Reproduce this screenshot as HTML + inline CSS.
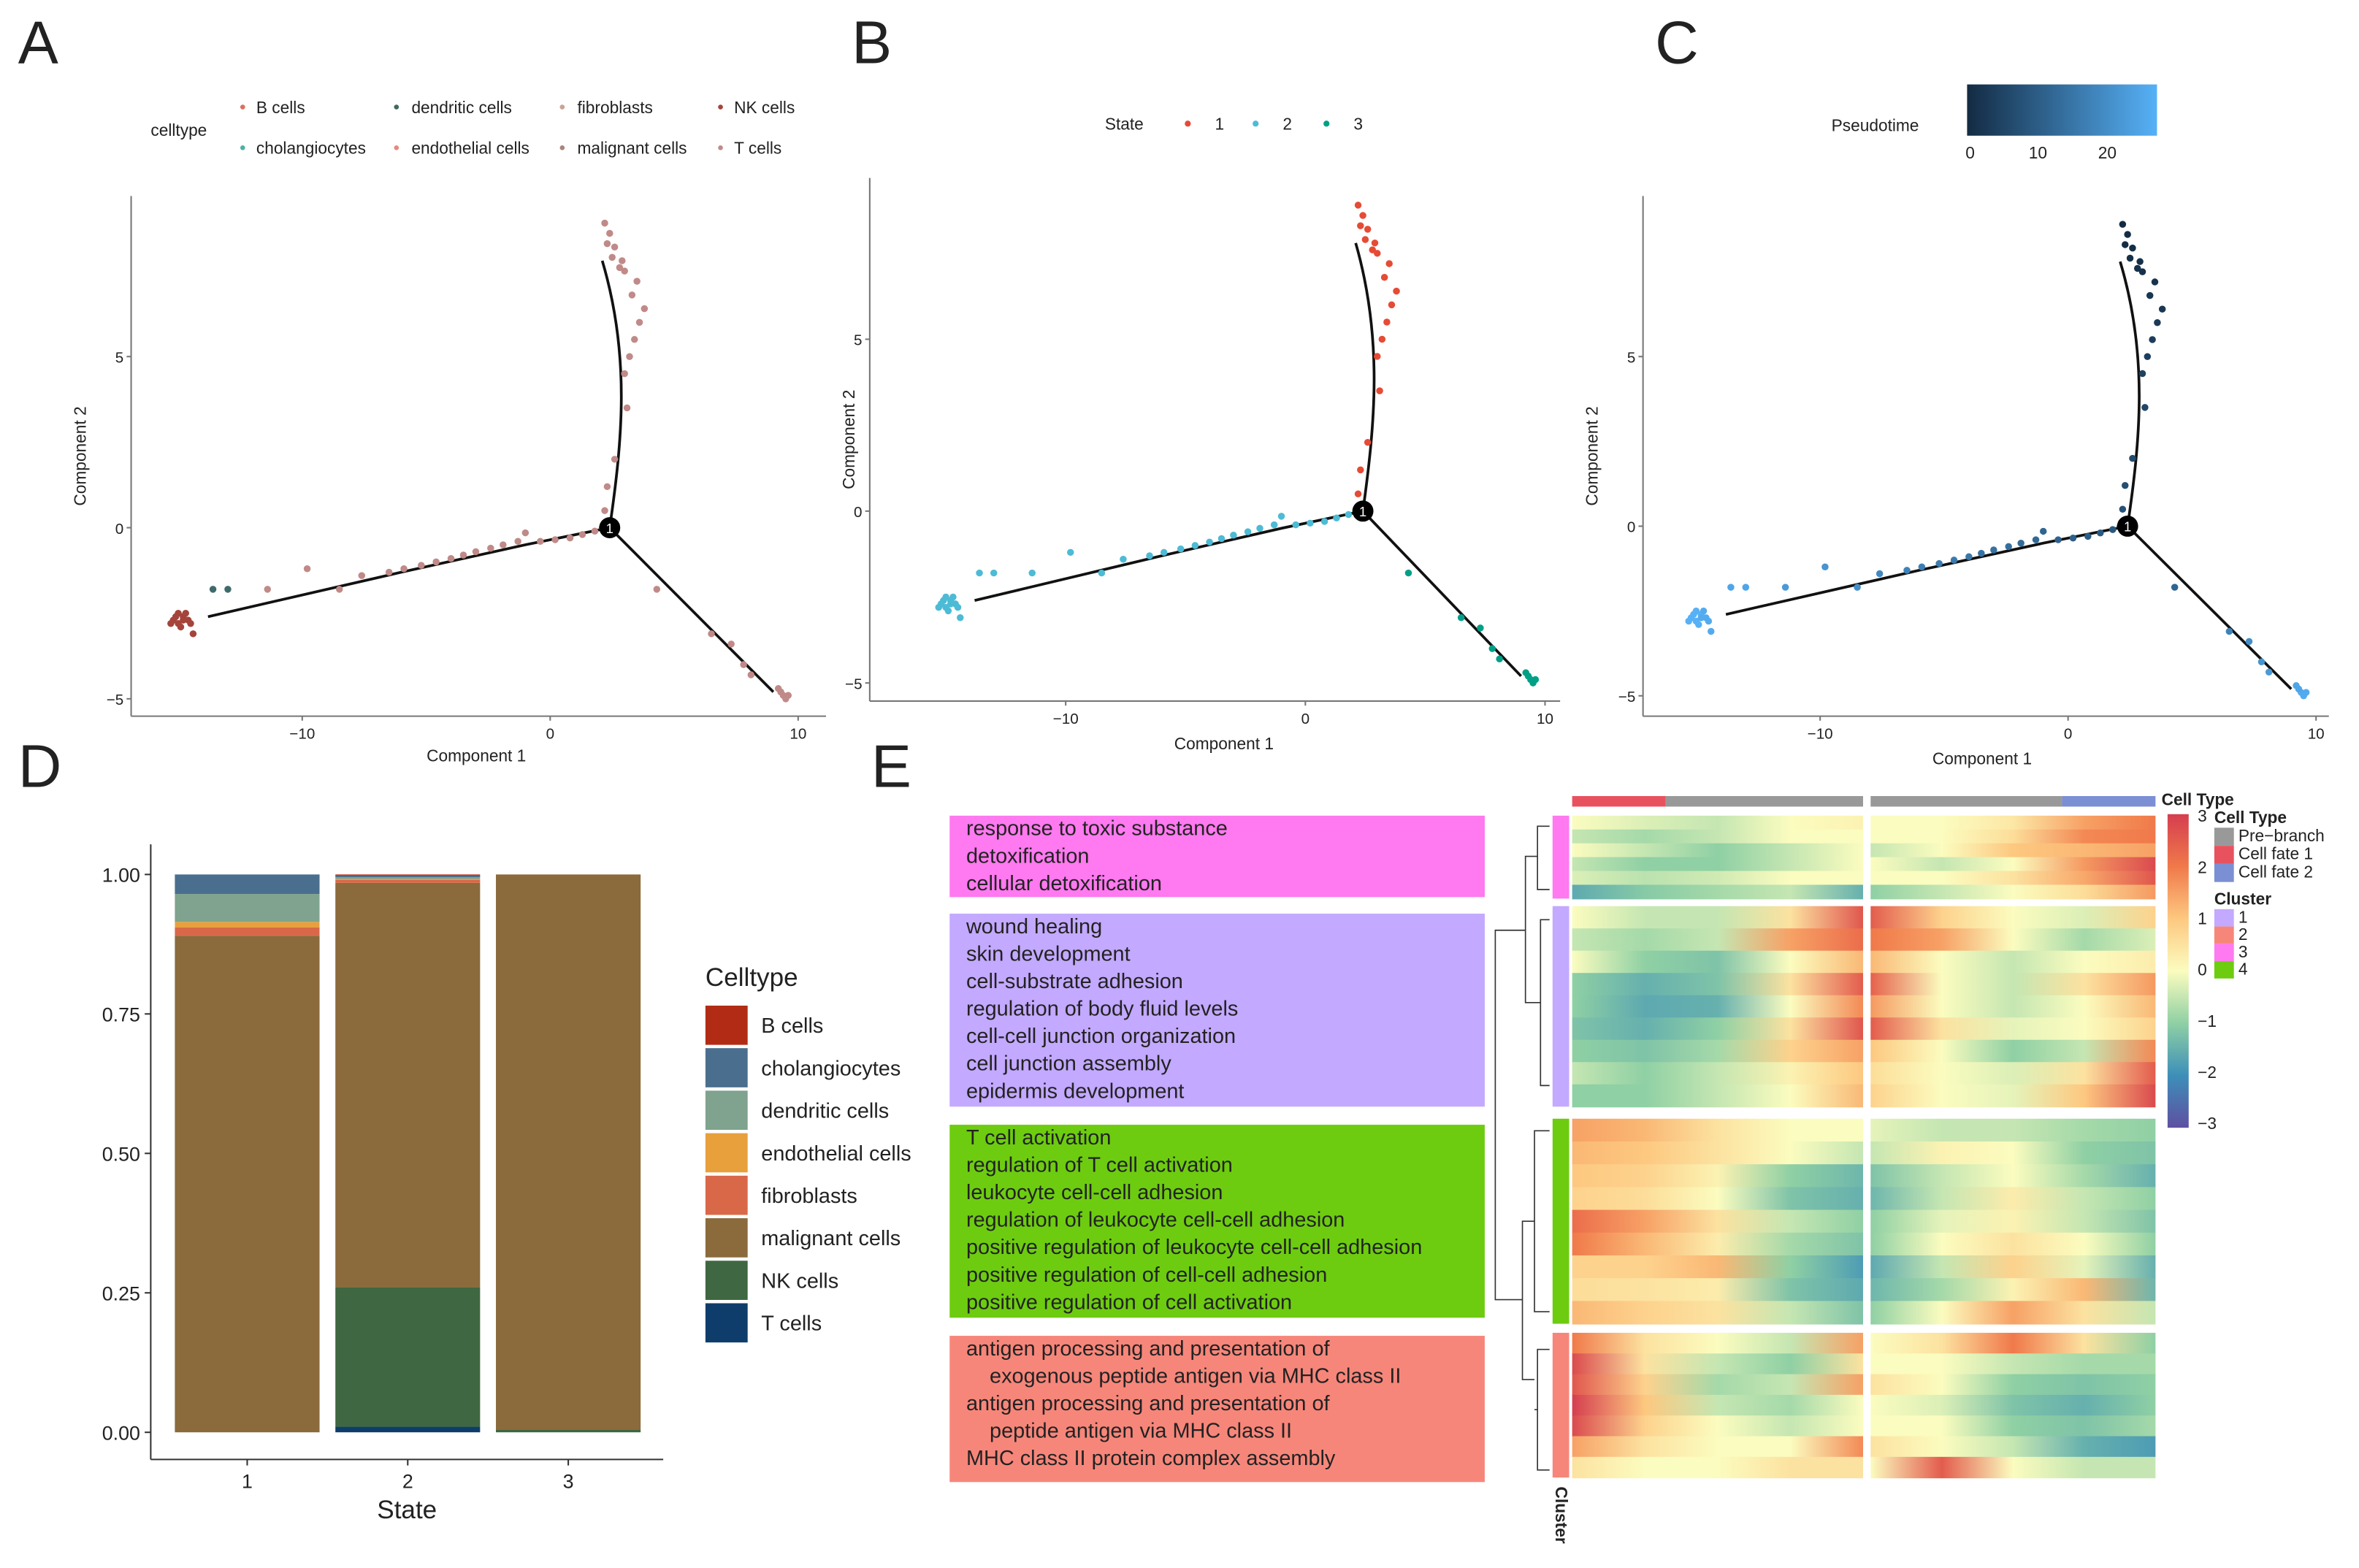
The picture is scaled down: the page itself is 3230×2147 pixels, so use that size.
<!DOCTYPE html>
<html><head><meta charset="utf-8"><style>
html,body{margin:0;padding:0;background:#fff}
svg{display:block}
text{font-family:"Liberation Sans",sans-serif;fill:#222}
</style></head><body>
<svg id="fig" width="3230" height="2147" viewBox="0 0 1565 1040" preserveAspectRatio="none" xmlns="http://www.w3.org/2000/svg">
<defs id="defs"></defs>
<!-- panel letters -->
<text x="12" y="42" font-size="40">A</text>
<text x="565" y="42" font-size="40">B</text>
<text x="1098" y="42" font-size="40">C</text>
<text x="12" y="522" font-size="40">D</text>
<text x="578" y="522" font-size="40">E</text>

<!-- Panel A legend -->
<g font-size="11">
<text x="100" y="90" font-size="11">celltype</text>
<circle cx="161" cy="71" r="1.6" fill="#d9705f"/><text x="170" y="75">B cells</text>
<circle cx="263" cy="71" r="1.6" fill="#3f6a5a"/><text x="273" y="75">dendritic cells</text>
<circle cx="373" cy="71" r="1.6" fill="#c9a394"/><text x="383" y="75">fibroblasts</text>
<circle cx="478" cy="71" r="1.6" fill="#a5443a"/><text x="487" y="75">NK cells</text>
<circle cx="161" cy="98" r="1.6" fill="#4fb0a5"/><text x="170" y="102">cholangiocytes</text>
<circle cx="263" cy="98" r="1.6" fill="#e28c7c"/><text x="273" y="102">endothelial cells</text>
<circle cx="373" cy="98" r="1.6" fill="#a8857a"/><text x="383" y="102">malignant cells</text>
<circle cx="478" cy="98" r="1.6" fill="#c08a88"/><text x="487" y="102">T cells</text>
</g>
<!-- Panel B legend -->
<g font-size="11">
<text x="733" y="86">State</text>
<circle cx="788" cy="82" r="2" fill="#e64b35"/><text x="806" y="86">1</text>
<circle cx="833" cy="82" r="2" fill="#4dbbd5"/><text x="851" y="86">2</text>
<circle cx="880" cy="82" r="2" fill="#00a087"/><text x="898" y="86">3</text>
</g>
<!-- Panel C legend -->
<g font-size="11">
<linearGradient id="ptg" x1="0" x2="1"><stop offset="0" stop-color="#132b43"/><stop offset="1" stop-color="#56b1f7"/></linearGradient>
<text x="1215" y="87">Pseudotime</text>
<rect x="1305" y="56" width="126" height="34" fill="url(#ptg)"/>
<text x="1307" y="105" text-anchor="middle">0</text>
<text x="1352" y="105" text-anchor="middle">10</text>
<text x="1398" y="105" text-anchor="middle">20</text>
</g>

<g id="scatters"></g>
<g id="panelD"></g>
<g id="panelE"></g>
</svg>
<script>
// ---------- trajectory data (shared cells) ----------
const cellX = [-15.2,-15.0,-14.8,-14.6,-14.9,-15.3,-14.7,-15.1,-14.5,-14.4,-15.0,-14.8,
 -13.6,-13.0,-11.4,-9.8,-8.5,-7.6,-6.5,-5.9,-5.2,-4.6,-4.0,-3.5,-3.0,-2.4,-1.9,-1.3,-1.0,-0.4,0.2,0.8,1.3,1.8,2.1,
 2.2,2.3,2.6,3.1,3.0,3.2,3.4,3.6,3.8,3.3,3.5,3.0,2.9,2.6,2.4,2.2,2.3,2.5,2.8,
 4.3,6.5,7.3,7.8,8.1,9.2,9.4,9.5,9.3,9.6];
const cellY = [-2.7,-2.8,-2.6,-2.7,-2.9,-2.8,-2.5,-2.6,-2.8,-3.1,-2.5,-2.7,
 -1.8,-1.8,-1.8,-1.2,-1.8,-1.4,-1.3,-1.2,-1.1,-1.0,-0.9,-0.8,-0.7,-0.6,-0.5,-0.4,-0.15,-0.4,-0.35,-0.3,-0.2,-0.1,0.0,
 0.5,1.2,2.0,3.5,4.5,5.0,5.5,6.0,6.4,6.8,7.2,7.5,7.8,8.2,8.6,8.9,8.3,7.9,7.6,
 -1.8,-3.1,-3.4,-4.0,-4.3,-4.7,-4.9,-5.0,-4.8,-4.9];
const cellType = ["NK","NK","NK","NK","NK","NK","NK","NK","NK","NK","NK","NK",
 "dendritic","dendritic","malignant","malignant","malignant","malignant","malignant","malignant","malignant","malignant","malignant","malignant","malignant","malignant","malignant","malignant","malignant","malignant","malignant","malignant","malignant","malignant","malignant",
 "malignant","malignant","malignant","malignant","malignant","malignant","malignant","malignant","malignant","malignant","malignant","malignant","malignant","malignant","malignant","malignant","malignant","malignant","malignant",
 "malignant","malignant","malignant","malignant","malignant","malignant","malignant","malignant","malignant","malignant"];
const cellState = [2,2,2,2,2,2,2,2,2,2,2,2, 2,2,2,2,2,2,2,2,2,2,2,2,2,2,2,2,2,2,2,2,2,2,2,
 1,1,1,1,1,1,1,1,1,1,1,1,1,1,1,1,1,1,1, 3,3,3,3,3,3,3,3,3,3];
const cellPT = [23,23,23,22,23,23,22,23,22,22,23,22, 21,21,19,18,17,16,15,14.5,14,13.5,13,12.5,12,11.5,11,10.5,10,9.5,9,8.5,8,7.5,7,
 6.5,6,5.5,4.5,4,3.5,3,2.5,2,2,1.5,1,0.8,0.5,0.3,0,0.4,0.9,1.2,
 10,15,17,18,19,21,22,22,21,22];
const branchL = [[2.4,0],[-1,-0.5],[-6,-1.3],[-13.8,-2.6]];
const branchU = [[2.4,0],[2.9,2.5],[3.25,5],[2.1,7.8]];
const branchR = [[2.4,0],[9.0,-4.8]];
const xTicks = [-10,0,10];
const yTicks = [-5,0,5];

const typeColor = {NK:"#a5443a",dendritic:"#3f6a6a",malignant:"#c08a88"};
const stateColor = {1:"#e64b35",2:"#4dbbd5",3:"#00a087"};
function ptColor(v){const t=Math.max(0,Math.min(1,v/23));const a=[0x13,0x2b,0x43],b=[0x56,0xb1,0xf7];
 return "rgb("+a.map((c,i)=>Math.round(c+(b[i]-c)*t)).join(",")+")";}

const NS="http://www.w3.org/2000/svg";
function mk(tag,attrs,parent){const e=document.createElementNS(NS,tag);for(const k in attrs)e.setAttribute(k,attrs[k]);parent.appendChild(e);return e;}

const panels = [
 {id:"a", x0:365,kx:16.45,y0:350,ky:22.7, L:87,R:548,T:130,B:475, color:i=>typeColor[cellType[i]], xl:316,xly:505,yl:57},
 {id:"b", x0:866,kx:15.9,y0:339,ky:22.8, L:577,R:1035,T:118,B:465, color:i=>stateColor[cellState[i]], xl:812,xly:497,yl:567},
 {id:"c", x0:1372,kx:16.45,y0:349,ky:22.5, L:1090,R:1545,T:130,B:475, color:i=>ptColor(cellPT[i]), xl:1315,xly:507,yl:1060}
];
const sc=document.getElementById("scatters");
panels.forEach(p=>{
 const g=mk("g",{},sc);
 
 
 const sx=v=>p.x0+p.kx*v, sy=v=>p.y0-p.ky*v;
 mk("line",{x1:p.L,y1:p.T,x2:p.L,y2:p.B,stroke:"#777","stroke-width":1},g);
 mk("line",{x1:p.L,y1:p.B,x2:p.R,y2:p.B,stroke:"#777","stroke-width":1},g);
 xTicks.forEach(t=>{mk("line",{x1:sx(t),y1:p.B,x2:sx(t),y2:p.B+3,stroke:"#777"},g);
  const tx=mk("text",{x:sx(t),y:p.B+15,"font-size":10,"text-anchor":"middle",fill:"#555"},g);tx.textContent=(t<0?"\u2212":"")+Math.abs(t);});
 yTicks.forEach(t=>{mk("line",{x1:p.L-3,y1:sy(t),x2:p.L,y2:sy(t),stroke:"#777"},g);
  const tx=mk("text",{x:p.L-5,y:sy(t)+4,"font-size":10,"text-anchor":"end",fill:"#555"},g);tx.textContent=(t<0?"\u2212":"")+Math.abs(t);});
 const xl=mk("text",{x:p.xl,y:p.xly,"font-size":11,"text-anchor":"middle"},g);xl.textContent="Component 1";
 
 const yl=mk("text",{x:p.yl,y:(p.T+p.B)/2,"font-size":11,"text-anchor":"middle",transform:`rotate(-90 ${p.yl} ${(p.T+p.B)/2})`},g);yl.textContent="Component 2";
 
 // branches
 [branchL,branchR].forEach(br=>{mk("polyline",{points:br.map(q=>sx(q[0])+","+sy(q[1])).join(" "),fill:"none",stroke:"#111","stroke-width":1.8},g);});
 const u=branchU.map(q=>[sx(q[0]),sy(q[1])]);
 mk("path",{d:`M${u[0]} C${u[1]} ${u[2]} ${u[3]}`,fill:"none",stroke:"#111","stroke-width":1.8},g);
 cellX.forEach((v,i)=>{const c=mk("circle",{cx:sx(v),cy:sy(cellY[i]),r:2.3,fill:p.color(i)},g);
  });
 mk("circle",{cx:sx(2.4),cy:sy(0),r:7,fill:"#000"},g);
 const bt=mk("text",{x:sx(2.4),y:sy(0)+3.5,"font-size":9,"text-anchor":"middle",fill:"#fff",style:"fill:#fff"},g);bt.textContent="1";
 
});

// ---------- Panel D ----------
const states = ["1","2","3"];
const ctNames = ["B cells","cholangiocytes","dendritic cells","endothelial cells","fibroblasts","malignant cells","NK cells","T cells"];
const ctColors = ["#b22c15","#4a6f8e","#7fa38e","#e8a03c","#d96848","#8b6a3c","#3f6741","#0f3d6b"];
// proportions per state, order as ctNames
const propState1 = [0.0,0.035,0.05,0.01,0.015,0.89,0.0,0.0];
const propState2 = [0.002,0.003,0.003,0.002,0.005,0.725,0.25,0.01];
const propState3 = [0.0,0.0,0.0,0.0,0.0,0.995,0.005,0.0];
const dTicks = [0,0.25,0.5,0.75,1.0];
(function(){
 const g=document.getElementById("panelD");
 
 
 const sy=v=>950-370*v, bx=i=>116+106.5*i, bw=96;
 mk("line",{x1:100,y1:560,x2:100,y2:968,stroke:"#333"},g);
 mk("line",{x1:100,y1:968,x2:440,y2:968,stroke:"#333"},g);
 dTicks.forEach(t=>{mk("line",{x1:96,y1:sy(t),x2:100,y2:sy(t),stroke:"#333"},g);
  const tx=mk("text",{x:93,y:sy(t)+5,"font-size":13,"text-anchor":"end",fill:"#444"},g);tx.textContent=t.toFixed(2);});
 [propState1,propState2,propState3].forEach((arr,si)=>{
  let cum=0;
  for(let k=arr.length-1;k>=0;k--){const v=arr[k];if(v>0){const r=mk("rect",{x:bx(si),y:sy(cum+v),width:bw,height:sy(cum)-sy(cum+v),fill:ctColors[k]},g);
    }
   cum+=v;}
  mk("line",{x1:bx(si)+bw/2,y1:968,x2:bx(si)+bw/2,y2:972,stroke:"#333"},g);
  const tx=mk("text",{x:bx(si)+bw/2,y:987,"font-size":13,"text-anchor":"middle",fill:"#444"},g);tx.textContent=states[si];
 });
 const xt=mk("text",{x:270,y:1007,"font-size":17,"text-anchor":"middle"},g);xt.textContent="State";
 
 const lt=mk("text",{x:468,y:654,"font-size":17},g);lt.textContent="Celltype";
 
 ctNames.forEach((n,i)=>{mk("rect",{x:468,y:667+28.2*i,width:28,height:26,fill:ctColors[i]},g);
  const t=mk("text",{x:505,y:685+28.2*i,"font-size":14},g);t.textContent=n;
  });
})();

// ---------- Panel E heatmap ----------
const clusterNames = ["3","1","4","2"];
const clusterColors = ["#ff79f0","#c3a9ff","#6dcc10","#f7867a"];
const boxTexts = [
 ["response to toxic substance","detoxification","cellular detoxification"],
 ["wound healing","skin development","cell-substrate adhesion","regulation of body fluid levels","cell-cell junction organization","cell junction assembly","epidermis development"],
 ["T cell activation","regulation of T cell activation","leukocyte cell-cell adhesion","regulation of leukocyte cell-cell adhesion","positive regulation of leukocyte cell-cell adhesion","positive regulation of cell-cell adhesion","positive regulation of cell activation"],
 ["antigen processing and presentation of","    exogenous peptide antigen via MHC class II","antigen processing and presentation of","    peptide antigen via MHC class II","MHC class II protein complex assembly"]
];
// row profiles per cluster: [left-half stops (start..branch), right-half stops (branch..end)]
const rowsC3 = [
 [[0,-0.3,-0.5,0,0.2],[0,0,0.4,1.5,2]],
 [[-0.5,-0.8,-0.5,0,0],[0,0,0.6,1.8,2]],
 [[0,-0.5,-1,-0.5,0],[-0.5,0,1,1.2,1.5]],
 [[-0.5,-1,-1,-0.5,0],[0,-0.5,0,1.6,2.8]],
 [[-0.3,-0.6,-0.4,0,0],[0,0,0.5,1.4,2.6]],
 [[-1.6,-1.1,-0.8,-0.5,-1.5],[-1,-0.5,0,0.6,1.6]]
];
const rowsC1 = [
 [[0,-0.5,-0.5,0.5,2.6],[2.5,0.8,0,-0.3,0.8]],
 [[-0.5,-0.8,-0.5,1.5,2.2],[2,1.5,0,-0.8,-0.3]],
 [[0,-1,-1.2,0,1.2],[1.2,0,-0.5,0,0.3]],
 [[-1,-1.5,-1.2,0.5,2.5],[2.4,0,-0.5,0.5,1.6]],
 [[-1,-1.6,-1.5,0,1.8],[1.6,0,-0.5,0,1.2]],
 [[-1.2,-1.5,-1,0.5,2.6],[2.5,0.5,-0.2,0,0.8]],
 [[-1,-1.2,-0.8,0.8,1.5],[1,0,-1,-0.5,1.8]],
 [[-0.5,-1,-0.5,0.2,1],[0.6,0,-0.3,0.5,2.5]],
 [[-1,-1,-0.5,0,1.2],[0.8,0,-0.2,1,2.8]]
];
const rowsC4 = [
 [[1.5,1.2,0.5,0,0],[-0.2,-0.5,-0.5,-0.8,-1]],
 [[1.2,1,0.5,0,-0.5],[-0.5,0.2,0,-1,-1.2]],
 [[1,0.8,0.2,-1,-1.4],[-1.2,-0.5,0,-0.8,-1.5]],
 [[0.8,0.6,0,-1.2,-1.5],[-1.4,-0.5,0.3,-0.5,-1]],
 [[2.2,1.5,0.5,-0.5,-1],[-1,-0.2,0.2,-0.5,-1.2]],
 [[2,1.2,0.3,-0.8,-1.2],[-1,0,0.5,0,-1]],
 [[0.8,0.8,1.2,-1,-1.8],[-1.6,-0.5,0.8,-0.2,-1.5]],
 [[0.6,0.5,0.3,-1.2,-1.6],[-1.4,-0.8,0.2,1.2,-1.4]],
 [[1.2,0.8,0.5,-0.5,-1.2],[-1,0,1.5,0.5,-0.5]]
];
const rowsC2 = [
 [[2,0.5,0,-0.5,1.5],[0,0.5,2,0.5,-1]],
 [[2.8,0.5,-0.5,-1,0.5],[0,0,-0.5,-0.8,-0.8]],
 [[2.6,0.8,-0.8,-0.5,1.5],[0.5,0,-1,-1.2,-1]],
 [[3,1,-0.5,-0.8,0],[0,-0.3,-1.2,-1.5,-1]],
 [[2.8,0.8,0,-0.5,0],[0,0,-1,-1.2,-0.8]],
 [[1.5,0.5,0,0,1.8],[0.5,0,-0.5,-1.5,-1.8]],
 [[0.5,0,0,0.5,0.5],[0,2.5,0,-0.5,-0.5]]
];
const allRows=[rowsC3,rowsC1,rowsC4,rowsC2];
const scaleVals=[-3,-2,-1,0,1,2,3];
const scaleCols=["#5e4fa2","#3d8fb8","#8fd0a4","#fbfcbf","#fdc880","#f0794a","#d53e4f"];
function heatColor(v){v=Math.max(-3,Math.min(3,v));const i=Math.min(5,Math.floor(v+3));const t=v+3-i;
 const h=c=>[1,3,5].map(k=>parseInt(c.substr(k,2),16));const a=h(scaleCols[i]),b=h(scaleCols[i+1]);
 return "rgb("+a.map((c,j)=>Math.round(c+(b[j]-c)*t)).join(",")+")";}
(function(){
 const g=document.getElementById("panelE"), defs=document.getElementById("defs");
 
 
 const blocks=[[541,596],[601,734],[742,878],[884,980]];
 const boxes=[[541,595],[606,734],[746,874],[886,983]];
 const LX=1043,LR=1236,RX=1241,RR=1430;
 // annotation bar
 mk("rect",{x:LX,y:528,width:62,height:7,fill:"#e8525f"},g);
 mk("rect",{x:LX+62,y:528,width:LR-LX-62,height:7,fill:"#999"},g);
 mk("rect",{x:RX,y:528,width:127,height:7,fill:"#999"},g);
 mk("rect",{x:RX+127,y:528,width:RR-RX-127,height:7,fill:"#7b8fd4"},g);
 let gid=0;
 allRows.forEach((rows,ci)=>{
  const [y0,y1]=blocks[ci], h=(y1-y0)/rows.length;
  rows.forEach((row,ri)=>{
   [[LX,LR],[RX,RR]].forEach((xs,half)=>{
    const id="hg"+(gid++);
    const lg=mk("linearGradient",{id:id,x1:0,x2:1,y1:0,y2:0},defs);
    row[half].forEach((v,k)=>mk("stop",{offset:k/(row[half].length-1),"stop-color":heatColor(v)},lg));
    const r=mk("rect",{x:xs[0],y:y0+ri*h,width:xs[1]-xs[0],height:h+0.5,fill:"url(#"+id+")"},g);
    
   });
  });
  // cluster side bar
  const sb=mk("rect",{x:1030,y:y0,width:11,height:y1-y0,fill:clusterColors[ci]},g);
  
  // text box
  const [b0,b1]=boxes[ci];
  const bx=mk("rect",{x:630,y:b0,width:355,height:b1-b0,fill:clusterColors[ci]},g);
  
  boxTexts[ci].forEach((t,k)=>{const tx=mk("text",{x:641,y:b0+13+18.2*k,"font-size":14,"xml:space":"preserve",fill:"#111"},g);
   tx.setAttribute("style","white-space:pre");tx.textContent=t;
   });
 });
 // dendrogram
 const dp="M1028,548 H1020 V590 H1028 M1020,568 H1012 V665 H1020 M1028,610 H1022 V720 H1028 M1022,665 H1020 M1012,617 H992 V862 H1010 M1028,750 H1018 V870 H1028 M1018,810 H1010 V915 H1018 M1028,895 H1020 V975 H1028 M1020,935 H1018";
 mk("path",{d:dp,fill:"none",stroke:"#333","stroke-width":0.8},g);
 const cl=mk("text",{x:1032,y:986,"font-size":11,"font-weight":"bold",transform:"rotate(90 1032 986)"},g);cl.textContent="Cluster";
 // color bar
 const cg=mk("linearGradient",{id:"cbar",x1:0,x2:0,y1:1,y2:0},defs);
 scaleCols.forEach((c,k)=>mk("stop",{offset:k/6,"stop-color":c},cg));
 mk("rect",{x:1438,y:540,width:14,height:208,fill:"url(#cbar)"},g);
 scaleVals.forEach((v,k)=>{const t=mk("text",{x:1458,y:545+34*(6-k)- (k===6?0:0),"font-size":11},g);t.textContent=(v<0?"\u2212":"")+Math.abs(v);});
 const t1=mk("text",{x:1434,y:534,"font-size":11,"font-weight":"bold"},g);t1.textContent="Cell Type";
 const t2=mk("text",{x:1469,y:546,"font-size":11,"font-weight":"bold"},g);t2.textContent="Cell Type";
 [["Pre\u2212branch","#999"],["Cell fate 1","#e8525f"],["Cell fate 2","#7b8fd4"]].forEach((e,k)=>{
  mk("rect",{x:1469,y:549+12*k,width:13,height:12,fill:e[1]},g);
  const t=mk("text",{x:1485,y:558+12*k,"font-size":11},g);t.textContent=e[0];
  });
 const t3=mk("text",{x:1469,y:600,"font-size":11,"font-weight":"bold"},g);t3.textContent="Cluster";
 [["1","#c3a9ff"],["2","#f7867a"],["3","#ff79f0"],["4","#6dcc10"]].forEach((e,k)=>{
  mk("rect",{x:1469,y:603+11.5*k,width:13,height:11.5,fill:e[1]},g);
  const t=mk("text",{x:1485,y:612+11.5*k,"font-size":11},g);t.textContent=e[0];
  });
})();
</script>
</body></html>
